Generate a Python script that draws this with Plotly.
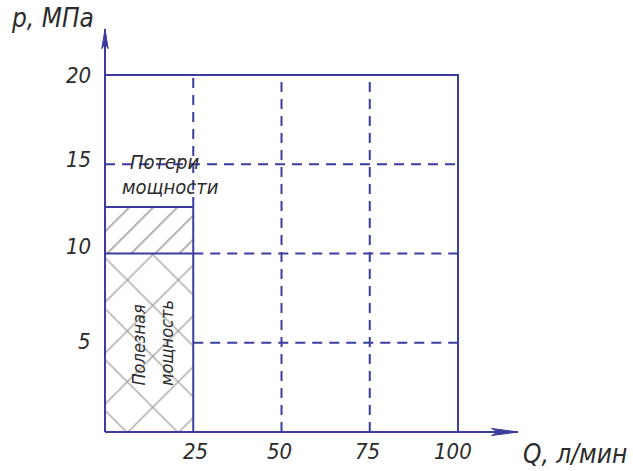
import plotly.graph_objects as go

# Power diagram of a hydraulic drive: pressure p versus flow Q
q_ticks = [25, 50, 75, 100]
p_ticks = [5, 10, 15, 20]
q_labels = ["25", "50", "75", "100"]
p_labels = ["5", "10", "15", "20"]

q_work = 25.0          # working flow, l/min
p_useful = 10.0        # useful pressure, MPa
p_loss_top = 12.6      # pressure including losses, MPa
q_max = 100.0
p_max = 20.0

LINE = "#3c3ca0"
HATCH = "#474747"
TEXT = "#2b2b2b"
FONT = "DejaVu Sans Condensed"

W, H = 633, 471
# pixel mapping of the drawing area
x0_px, x_scale = 105.0, 3.53
y0_px, y_scale = 432.0, 17.85
x_range = [-x0_px / x_scale, (W - x0_px) / x_scale]
y_range = [-(H - y0_px) / y_scale, y0_px / y_scale]

fig = go.Figure()

# hatched areas: power losses (single hatch) and useful power (cross hatch)
fig.add_trace(go.Bar(
    x=[q_work / 2], y=[p_loss_top - p_useful], base=[p_useful], width=[q_work],
    marker=dict(color="white", line=dict(width=0),
                pattern=dict(shape="/", fgcolor=HATCH, bgcolor="white",
                             size=17, solidity=0.1)),
    hoverinfo="skip", showlegend=False))
fig.add_trace(go.Bar(
    x=[q_work / 2], y=[p_useful], base=[0], width=[q_work],
    marker=dict(color="white", line=dict(width=0),
                pattern=dict(shape="x", fgcolor=HATCH, bgcolor="white",
                             size=36, solidity=0.075)),
    hoverinfo="skip", showlegend=False))


def seg(xs, ys, dash="solid", width=2):
    fig.add_trace(go.Scatter(x=xs, y=ys, mode="lines",
                             line=dict(color=LINE, width=width, dash=dash),
                             hoverinfo="skip", showlegend=False))


DASH = "10px,7px"
# dashed grid
for p in p_ticks[:2]:
    seg([q_work, q_max], [p, p], DASH)
seg([0, q_max], [p_ticks[2], p_ticks[2]], DASH)
for q in q_ticks[1:3]:
    seg([q, q], [0, p_max], DASH)
seg([q_work, q_work], [p_loss_top, p_max], DASH)

# solid outline of the working field
q_arrow = (518 - x0_px) / x_scale
p_arrow = (y0_px - 29) / y_scale
seg([0, q_arrow], [0, 0])
seg([0, 0], [0, p_arrow])
seg([0, q_max, q_max], [p_max, p_max, 0])
seg([q_work, q_work], [0, p_loss_top])
seg([0, q_work], [p_loss_top, p_loss_top])
seg([0, q_work], [p_useful, p_useful])

# arrow heads
ax_len = 7.5
fig.add_trace(go.Scatter(
    x=[q_arrow, q_arrow - ax_len, q_arrow - ax_len * 0.75, q_arrow - ax_len, q_arrow],
    y=[0, 0.2, 0, -0.2, 0], mode="lines", fill="toself", fillcolor=LINE,
    line=dict(color=LINE, width=1), hoverinfo="skip", showlegend=False))
ay_len = 1.1
fig.add_trace(go.Scatter(
    x=[0, -0.9, 0, 0.9, 0],
    y=[p_arrow, p_arrow - ay_len, p_arrow - ay_len * 0.75, p_arrow - ay_len, p_arrow],
    mode="lines", fill="toself", fillcolor=LINE,
    line=dict(color=LINE, width=1), hoverinfo="skip", showlegend=False))

tick_font = dict(family=FONT, size=22, color=TEXT, style="italic")
ann = []
# pressure tick labels
p_offsets = [0.05, 0.38, 0.25, 0.0]
for p, lab, off in zip(p_ticks, p_labels, p_offsets):
    ann.append(dict(x=-3.4, y=p + off, text=lab, showarrow=False,
                    xanchor="right", yanchor="middle", font=tick_font))
# flow tick labels
q_offsets = [0.5, -0.5, -0.7, -1.5]
for q, lab, off in zip(q_ticks, q_labels, q_offsets):
    ann.append(dict(x=q + off, y=-1.1, text=lab, showarrow=False,
                    xanchor="center", yanchor="middle", font=tick_font))

title_font = dict(family=FONT, size=26, color=TEXT, style="italic")
ann.append(dict(x=-27.2, y=p_arrow + 0.6, text="p, МПа", showarrow=False,
                xanchor="left", yanchor="middle", font=title_font))
ann.append(dict(x=q_arrow + 0.9, y=-1.25, text="Q, л/мин", showarrow=False,
                xanchor="left", yanchor="middle", font=title_font))

area_font = dict(family=FONT, size=20, color=TEXT, style="italic")
ann.append(dict(x=q_work / 2 + 4.5, y=15.15, text="Потери", showarrow=False,
                xanchor="center", yanchor="middle", font=area_font))
ann.append(dict(x=q_work / 2 + 6.0, y=13.7, text="мощности", showarrow=False,
                xanchor="center", yanchor="middle", font=area_font))

vert_font = dict(family=FONT, size=18, color=TEXT, style="italic")
ann.append(dict(x=9.4, y=2.5, text="Полезная", showarrow=False, textangle=-90,
                xanchor="center", yanchor="bottom", font=vert_font))
ann.append(dict(x=17.4, y=2.5, text="мощность", showarrow=False, textangle=-90,
                xanchor="center", yanchor="bottom", font=vert_font))

fig.update_layout(
    width=W, height=H,
    margin=dict(l=0, r=0, t=0, b=0),
    paper_bgcolor="white", plot_bgcolor="white",
    barmode="overlay", bargap=0,
    xaxis=dict(range=x_range, visible=False, fixedrange=True),
    yaxis=dict(range=y_range, visible=False, fixedrange=True),
    annotations=ann,
)

fig.write_html("out.html")
